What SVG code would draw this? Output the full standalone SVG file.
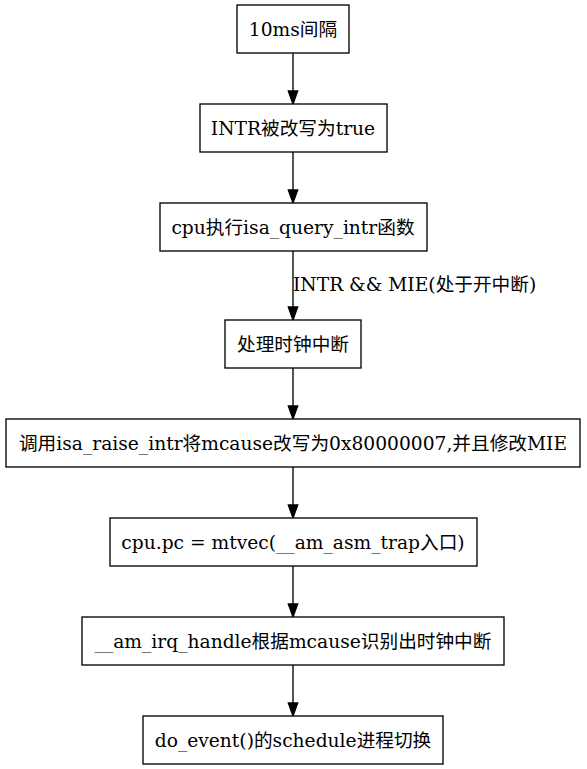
<svg xmlns="http://www.w3.org/2000/svg" width="587" height="769" viewBox="0 0 587 769">
<style>
.box{fill:#fff;stroke:#000;stroke-width:1.33}
.t{font-family:"DejaVu Serif","Noto Sans CJK SC",serif;font-size:18.67px;fill:#000;text-anchor:middle}
.lbl{font-family:"DejaVu Serif","Noto Sans CJK SC",serif;font-size:18.67px;fill:#000}
.e{stroke:#000;stroke-width:1.33;fill:none}
.hd{fill:#000;stroke:#000;stroke-width:1.33}
</style>
<rect width="587" height="769" fill="#fff"/>
<g id="edges">
<path class="e" d="M293,53V91"/><polygon class="hd" points="288.3,91 297.7,91 293,104"/>
<path class="e" d="M293,152V190"/><polygon class="hd" points="288.3,190 297.7,190 293,203"/>
<path class="e" d="M293,251V307"/><polygon class="hd" points="288.3,307 297.7,307 293,320"/>
<text class="lbl" x="293" y="291">INTR &amp;&amp; MIE(处于开中断)</text>
<path class="e" d="M293,368V406"/><polygon class="hd" points="288.3,406 297.7,406 293,419"/>
<path class="e" d="M293,467V505"/><polygon class="hd" points="288.3,505 297.7,505 293,518"/>
<path class="e" d="M293,566V604"/><polygon class="hd" points="288.3,604 297.7,604 293,617"/>
<path class="e" d="M293,665V703"/><polygon class="hd" points="288.3,703 297.7,703 293,716"/>
</g>
<g id="n1"><rect class="box" x="237" y="5" width="112" height="48"/><text class="t" x="293" y="35.5">10ms间隔</text></g>
<g id="n2"><rect class="box" x="200" y="104" width="187" height="48"/><text class="t" x="293" y="134.5">INTR被改写为true</text></g>
<g id="n3"><rect class="box" x="160" y="203" width="267" height="48"/><text class="t" x="293" y="233.5">cpu执行isa_query_intr函数</text></g>
<g id="n4"><rect class="box" x="225" y="320" width="136" height="48"/><text class="t" x="293" y="350.5">处理时钟中断</text></g>
<g id="n5"><rect class="box" x="6" y="419" width="574" height="48"/><text class="t" x="293" y="449.5">调用isa_raise_intr将mcause改写为0x80000007,并且修改MIE</text></g>
<g id="n6"><rect class="box" x="110" y="518" width="367" height="48"/><text class="t" x="293" y="548.5">cpu.pc = mtvec(__am_asm_trap入口)</text></g>
<g id="n7"><rect class="box" x="82" y="617" width="422" height="48"/><text class="t" x="293" y="647.5">__am_irq_handle根据mcause识别出时钟中断</text></g>
<g id="n8"><rect class="box" x="143" y="716" width="300" height="48"/><text class="t" x="293" y="746.5">do_event()的schedule进程切换</text></g>
</svg>
